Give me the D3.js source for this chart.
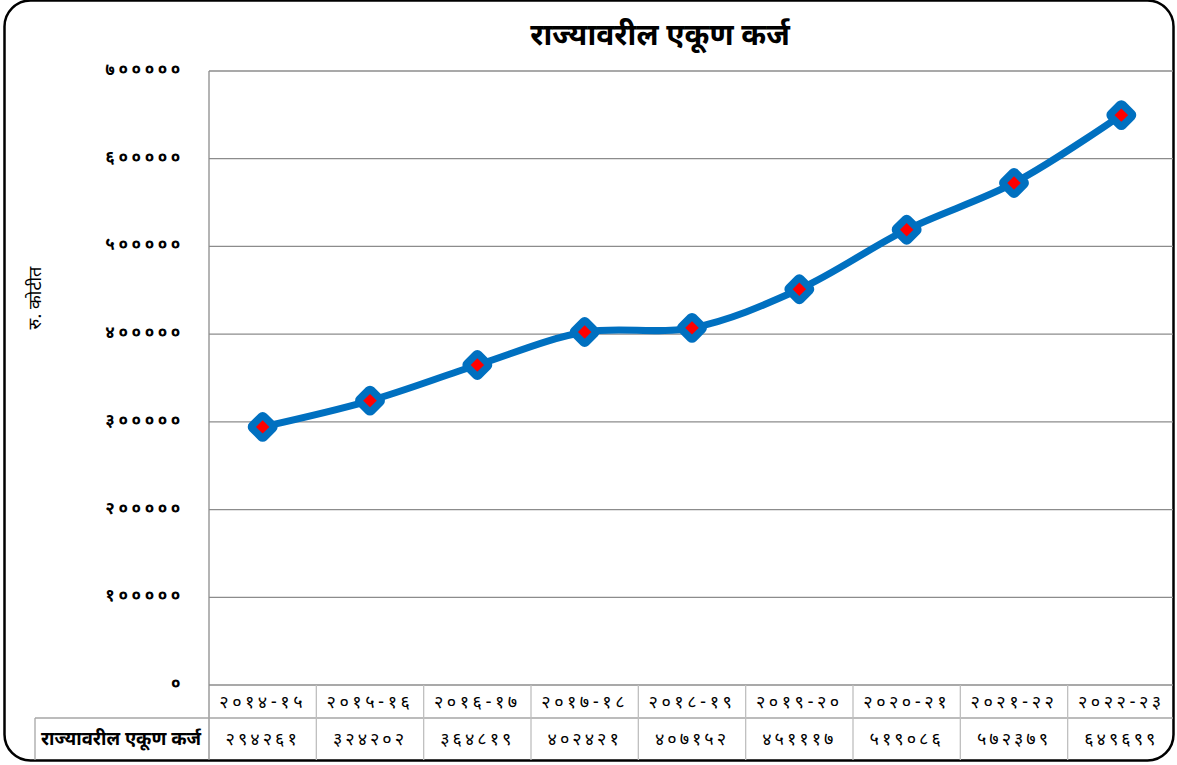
<!DOCTYPE html>
<html>
<head>
<meta charset="utf-8">
<script src="https://cdn.jsdelivr.net/npm/d3@7"></script>
<style>
  html, body { margin: 0; padding: 0; background: #fff; }
  svg { display: block; font-family: "Noto Sans Devanagari", "Mangal", "Noto Sans", sans-serif; }
</style>
</head>
<body>
<svg id="chart" width="1177" height="765"></svg>
<script>
const title = "राज्यावरील एकूण कर्ज";
const yTitle = "रु. कोटीत";
const seriesName = "राज्यावरील एकूण कर्ज";
const categories = ["२०१४-१५","२०१५-१६","२०१६-१७","२०१७-१८","२०१८-१९","२०१९-२०","२०२०-२१","२०२१-२२","२०२२-२३"];
const values = [294261, 324202, 364819, 402421, 407152, 451117, 519086, 572379, 649699];
const valueLabels = ["२९४२६१","३२४२०२","३६४८१९","४०२४२१","४०७१५२","४५१११७","५१९०८६","५७२३७९","६४९६९९"];
const yTicks = [0, 100000, 200000, 300000, 400000, 500000, 600000, 700000];
const yTickLabels = ["०","१०००००","२०००००","३०००००","४०००००","५०००००","६०००००","७०००००"];

const svg = d3.select("#chart");
const L = 209, R = 1175, T = 71, B = 685;
const rowH1 = 718, rowH2 = 760, tableLeft = 35;

const x = d3.scaleBand().domain(categories).range([L, R]).padding(0);
const y = d3.scaleLinear().domain([0, 700000]).range([B, T]);

// frame
svg.append("rect").attr("x", 4.5).attr("y", 0.5).attr("width", 1169).attr("height", 760)
  .attr("rx", 26).attr("ry", 26).attr("fill", "#fff").attr("stroke", "#000").attr("stroke-width", 2.5);

// gridlines
svg.append("g").selectAll("line").data(yTicks.filter(d => d > 0)).join("line")
  .attr("x1", L).attr("x2", 1173).attr("y1", d => y(d)).attr("y2", d => y(d))
  .attr("stroke", "#8c8c8c").attr("stroke-width", 1.3);

// y axis line
svg.append("line").attr("x1", L).attr("x2", L).attr("y1", T).attr("y2", rowH2)
  .attr("stroke", "#8c8c8c").attr("stroke-width", 1.3);

// y tick labels
svg.append("g").selectAll("text").data(yTicks).join("text")
  .attr("x", 184).attr("y", d => y(d) - 2).attr("dy", "0.35em")
  .attr("text-anchor", "end").attr("font-size", 17).attr("font-weight", "bold")
  .attr("letter-spacing", 3.6).attr("fill", "#000")
  .text((d, i) => yTickLabels[i]);

// y title
svg.append("text").attr("transform", "translate(41,298) rotate(-90)")
  .attr("text-anchor", "middle").attr("font-size", 18).attr("fill", "#000").text(yTitle);

// title
svg.append("text").attr("x", 660).attr("y", 45).attr("text-anchor", "middle")
  .attr("font-size", 30).attr("font-weight", "bold").attr("fill", "#000").text(title);

// table
const tg = svg.append("g");
tg.append("line").attr("x1", L).attr("x2", 1173).attr("y1", B).attr("y2", B)
  .attr("stroke", "#8c8c8c").attr("stroke-width", 1.5);
tg.append("line").attr("x1", tableLeft).attr("x2", 1173).attr("y1", rowH1).attr("y2", rowH1)
  .attr("stroke", "#a6a6a6").attr("stroke-width", 1.3);
tg.append("line").attr("x1", tableLeft).attr("x2", tableLeft).attr("y1", rowH1).attr("y2", rowH2)
  .attr("stroke", "#a6a6a6").attr("stroke-width", 1.3);
tg.selectAll("line.col").data(categories.slice(1)).join("line").attr("class", "col")
  .attr("x1", d => x(d)).attr("x2", d => x(d)).attr("y1", B).attr("y2", rowH2)
  .attr("stroke", "#bfbfbf").attr("stroke-width", 1.3);
tg.selectAll("text.cat").data(categories).join("text").attr("class", "cat")
  .attr("x", d => x(d) + x.bandwidth() / 2).attr("y", (B + rowH1) / 2).attr("dy", "0.35em")
  .attr("text-anchor", "middle").attr("font-size", 18).attr("letter-spacing", 3.5).attr("fill", "#000")
  .text(d => d);
tg.selectAll("text.val").data(values).join("text").attr("class", "val")
  .attr("x", (d, i) => x(categories[i]) + x.bandwidth() / 2).attr("y", (rowH1 + rowH2) / 2).attr("dy", "0.35em")
  .attr("text-anchor", "middle").attr("font-size", 18).attr("letter-spacing", 3).attr("fill", "#000")
  .text((d, i) => valueLabels[i]);
tg.append("text").attr("x", (tableLeft + L) / 2 - 1).attr("y", (rowH1 + rowH2) / 2).attr("dy", "0.35em")
  .attr("text-anchor", "middle").attr("font-size", 18.5).attr("font-weight", "bold").attr("fill", "#000")
  .text(seriesName);

// line
const pts = values.map((v, i) => [x(categories[i]) + x.bandwidth() / 2, y(v)]);
svg.append("path").datum(pts)
  .attr("d", d3.line().curve(d3.curveCatmullRom.alpha(0.5)))
  .attr("fill", "none").attr("stroke", "#0070C0").attr("stroke-width", 7).attr("stroke-linecap", "round");

// markers
const mg = svg.append("g").selectAll("g").data(pts).join("g")
  .attr("transform", d => `translate(${d[0]},${d[1]})`);
mg.append("rect").attr("x", -8.5).attr("y", -8.5).attr("width", 17).attr("height", 17)
  .attr("transform", "rotate(45)").attr("rx", 2)
  .attr("fill", "#ff0000").attr("stroke", "#0070C0").attr("stroke-width", 7.5).attr("stroke-linejoin", "round");
</script>
</body>
</html>
